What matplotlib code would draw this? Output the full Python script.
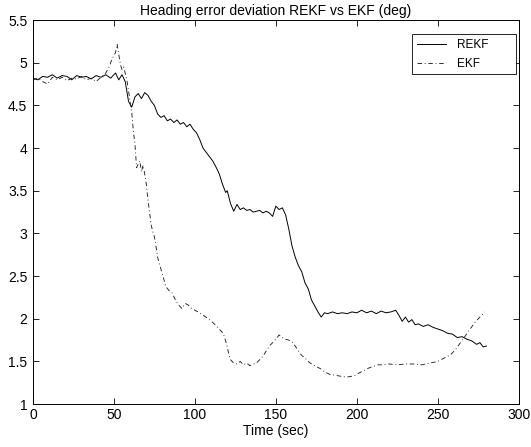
import matplotlib
matplotlib.use("Agg")
import matplotlib.pyplot as plt
from matplotlib.patches import Rectangle

# heading error deviation
t_rekf = [0, 3, 6, 9, 12, 15, 18, 21, 24, 27, 30, 33, 36, 39, 42, 45, 48, 51, 53, 55,
          57, 59, 61, 63, 65, 67, 69, 71, 73, 75, 77, 79, 81, 83, 85, 87, 89, 91, 93, 95,
          97, 99, 101, 103, 105, 107, 109, 111, 113, 115, 117, 119, 120, 122, 124, 126, 128, 130, 132, 134,
          136, 138, 140, 142, 144, 146, 148, 150, 152, 154, 156, 158, 160, 162, 164, 166, 168, 170, 172, 174,
          176, 178, 180, 182, 185, 188, 191, 194, 197, 200, 203, 206, 209, 212, 215, 218, 221, 224, 226, 228,
          230, 232, 234, 236, 238, 241, 244, 247, 250, 253, 256, 259, 262, 265, 268, 271, 274, 276, 278, 280]
rekf = [4.82, 4.80, 4.84, 4.83, 4.86, 4.82, 4.85, 4.84, 4.80, 4.85, 4.83, 4.84, 4.81, 4.85, 4.83, 4.86, 4.82, 4.88, 4.80, 4.86,
        4.78, 4.55, 4.48, 4.60, 4.64, 4.58, 4.65, 4.62, 4.55, 4.50, 4.40, 4.36, 4.38, 4.32, 4.34, 4.30, 4.33, 4.28, 4.30, 4.25,
        4.28, 4.22, 4.18, 4.10, 4.00, 3.95, 3.90, 3.85, 3.78, 3.70, 3.58, 3.48, 3.50, 3.35, 3.26, 3.34, 3.28, 3.30, 3.27, 3.28,
        3.25, 3.26, 3.27, 3.24, 3.26, 3.24, 3.20, 3.32, 3.28, 3.30, 3.22, 3.05, 2.85, 2.72, 2.62, 2.55, 2.42, 2.35, 2.22, 2.15,
        2.08, 2.02, 2.07, 2.06, 2.08, 2.06, 2.07, 2.06, 2.08, 2.07, 2.10, 2.07, 2.09, 2.06, 2.09, 2.07, 2.08, 2.10, 2.04, 1.97,
        2.02, 1.96, 1.99, 1.93, 1.94, 1.91, 1.93, 1.90, 1.88, 1.86, 1.83, 1.82, 1.78, 1.79, 1.76, 1.74, 1.70, 1.72, 1.67, 1.68]

t_ekf = [0, 3, 6, 9, 12, 15, 18, 21, 24, 27, 30, 33, 36, 39, 42, 45, 47, 49, 51, 52,
         53, 54, 55, 56, 58, 60, 61, 62, 63, 64, 66, 67, 68, 69, 70, 71, 72, 73, 74, 75,
         76, 77, 78, 80, 82, 84, 86, 88, 90, 92, 94, 96, 98, 100, 103, 106, 109, 112, 115, 117,
         118, 119, 120, 121, 122, 124, 126, 128, 130, 132, 134, 136, 138, 140, 142, 144, 146, 148, 150, 152,
         154, 156, 158, 160, 162, 164, 166, 168, 170, 172, 174, 176, 178, 180, 183, 186, 189, 192, 195, 198,
         201, 204, 207, 210, 213, 216, 220, 225, 230, 235, 240, 245, 250, 254, 258, 261, 264, 267, 270, 273,
         276, 279]
ekf = [4.80, 4.82, 4.78, 4.75, 4.83, 4.80, 4.83, 4.79, 4.82, 4.81, 4.84, 4.80, 4.82, 4.78, 4.83, 4.88, 4.95, 5.05, 5.12, 5.22,
       5.10, 4.98, 4.92, 4.95, 4.80, 4.55, 4.42, 4.20, 4.05, 3.77, 3.85, 3.72, 3.80, 3.70, 3.58, 3.40, 3.25, 3.10, 3.02, 2.96,
       2.85, 2.72, 2.65, 2.52, 2.38, 2.33, 2.30, 2.22, 2.16, 2.12, 2.18, 2.16, 2.12, 2.10, 2.07, 2.03, 1.99, 1.94, 1.88, 1.84,
       1.80, 1.74, 1.67, 1.58, 1.52, 1.48, 1.47, 1.50, 1.46, 1.48, 1.45, 1.47, 1.48, 1.52, 1.56, 1.62, 1.68, 1.72, 1.76, 1.81,
       1.78, 1.76, 1.75, 1.73, 1.68, 1.62, 1.57, 1.54, 1.50, 1.47, 1.45, 1.43, 1.41, 1.38, 1.35, 1.34, 1.33, 1.32, 1.32, 1.33,
       1.36, 1.39, 1.42, 1.44, 1.46, 1.46, 1.47, 1.46, 1.47, 1.47, 1.46, 1.48, 1.50, 1.54, 1.58, 1.64, 1.72, 1.80, 1.88, 1.96,
       2.02, 2.08]

xticks = [0, 50, 100, 150, 200, 250, 300]
yticks = [1, 1.5, 2, 2.5, 3, 3.5, 4, 4.5, 5, 5.5]

plt.rcParams['font.family'] = ['Liberation Sans', 'DejaVu Sans']

fig = plt.figure(figsize=(5.31, 4.47), dpi=100)
ax = fig.add_axes([0.062, 0.096, 0.915, 0.859])

ax.plot(t_rekf, rekf, color='black', linewidth=0.7, label='REKF')
ax.plot(t_ekf, ekf, color='#222222', linewidth=0.65, linestyle=(0, (5, 3, 1, 3)), label='EKF')

ax.set_xlim(0, 300)
ax.set_ylim(1, 5.5)
ax.set_xticks(xticks)
ax.set_xticklabels([str(x) for x in xticks])
ax.set_yticks(yticks)
ax.set_yticklabels(['1', '1.5', '2', '2.5', '3', '3.5', '4', '4.5', '5', '5.5'])
ax.tick_params(direction='in', top=True, right=True, labelsize=10, length=4, width=0.6)
ax.tick_params(axis='x', pad=3)
ax.tick_params(axis='y', pad=4)
for s in ax.spines.values():
    s.set_linewidth(0.7)

ax.set_title('Heading error deviation REKF vs EKF (deg)', fontsize=10, pad=4)
ax.set_xlabel('Time (sec)', fontsize=10, labelpad=1)

# MATLAB style legend: wide box, entries packed to the left
box = (0.780, 0.859, 0.214, 0.105)
ax.add_patch(Rectangle(box[:2], box[2], box[3], transform=ax.transAxes,
                       facecolor='white', edgecolor='black', linewidth=0.6, zorder=4))
leg = ax.legend(loc='upper left', bbox_to_anchor=(box[0], box[1] + box[3]),
                fontsize=8.5, frameon=False, handlelength=2.4, handletextpad=1.0,
                borderaxespad=0, borderpad=0.45, labelspacing=0.55)
leg.set_zorder(5)

fig.savefig('out.png', dpi=100)
